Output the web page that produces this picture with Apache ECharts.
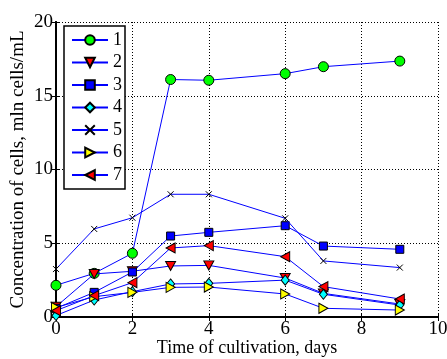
<!DOCTYPE html>
<html><head><meta charset="utf-8">
<script src="https://cdn.jsdelivr.net/npm/echarts@6/dist/echarts.min.js"></script>
<style>html,body{margin:0;padding:0;background:#fff}#c{width:447px;height:359px}</style>
</head><body><div id="c"></div>
<script>
const days = [0, 1, 2, 3, 4, 6, 7, 9];
const seriesNames = ['1', '2', '3', '4', '5', '6', '7'];
const s1 = [2.15, 2.96, 4.32, 16.1, 16.05, 16.5, 16.97, 17.35];
const s2 = [0.7, 2.92, 3.1, 3.46, 3.5, 2.64, 1.6, 0.88];
const s3 = [0.59, 1.67, 3.05, 5.49, 5.74, 6.19, 4.81, 4.59];
const s4 = [0.1, 1.15, 1.72, 2.24, 2.28, 2.5, 1.54, 0.81];
const s5 = [3.25, 5.97, 6.73, 8.32, 8.32, 6.69, 3.8, 3.35];
const s6 = [0.65, 1.38, 1.67, 2.01, 2.03, 1.56, 0.59, 0.47];
const s7 = [0.43, 1.45, 2.33, 4.68, 4.84, 4.09, 2.06, 1.22];
const xTicks = [0, 2, 4, 6, 8, 10];
const yTicks = [0, 5, 10, 15, 20];

const allValues = [s1, s2, s3, s4, s5, s6, s7];
const symbols = ['circle', 'path://M0,0 L10,0 L5,9 Z', 'rect', 'diamond',
  'path://M0,0 L10,10 M10,0 L0,10', 'path://M0,0 L9,5 L0,10 Z', 'path://M9,0 L0,5 L9,10 Z'];
const sizes = [10, [10, 9], 8, [8, 10], 6, [9, 10], [9, 10]];
const fills = ['#00ff00', '#ff0000', '#0000ff', '#00ffff', '#000000', '#ffff00', '#ff0000'];
const FONT = '"Liberation Serif", "Times New Roman", serif';

const series = allValues.map((vals, i) => ({
  name: seriesNames[i],
  type: 'line',
  data: vals.map((v, j) => [days[j], v]),
  symbol: symbols[i],
  symbolSize: sizes[i],
  lineStyle: { color: '#0000ff', width: 1 },
  itemStyle: { color: fills[i], borderColor: '#000', borderWidth: 1 },
  emphasis: { disabled: true },
  animation: false,
  z: 2 + i
}));

const axisCommon = {
  type: 'value',
  axisLine: { show: true, lineStyle: { color: '#000', width: 2 } },
  axisTick: { show: true, inside: true, length: 4, lineStyle: { color: '#000' } },
  splitLine: { show: false },
  axisLabel: { show: false }
};

const option = {
  animation: false,
  grid: { left: 56, top: 22, right: 9, bottom: 42, outerBoundsMode: 'none', containLabel: false },
  xAxis: [{
    type: 'value', min: 0, max: 10, interval: 2,
    name: 'Time of cultivation, days', nameLocation: 'middle', nameGap: 22,
    nameMoveOverlap: false,
    nameTextStyle: { fontFamily: FONT, fontSize: 18, color: '#000' },
    axisLine: { show: true, lineStyle: { color: '#000', width: 2 } },
    axisTick: { show: true, inside: true, length: 4, lineStyle: { color: '#000' } },
    axisLabel: { fontFamily: FONT, fontSize: 19, color: '#000', margin: 3,
      formatter: v => xTicks.includes(v) ? String(v) : '' },
    splitLine: { show: true, lineStyle: { color: '#000', type: [1, 2], width: 1 } }
  }, Object.assign({}, axisCommon, { position: 'top', min: 0, max: 10, interval: 2 })],
  yAxis: [{
    type: 'value', min: 0, max: 20, interval: 5,
    name: 'Concentration of cells, mln cells/mL', nameLocation: 'middle', nameGap: 28,
    nameMoveOverlap: false,
    nameTextStyle: { fontFamily: FONT, fontSize: 19, color: '#000' },
    axisLine: { show: true, lineStyle: { color: '#000', width: 2 } },
    axisTick: { show: true, inside: true, length: 4, lineStyle: { color: '#000' } },
    axisLabel: { fontFamily: FONT, fontSize: 19, color: '#000', margin: 3,
      formatter: v => yTicks.includes(v) ? String(v) : '' },
    splitLine: { show: true, lineStyle: { color: '#000', type: [1, 2], width: 1 } }
  }, Object.assign({}, axisCommon, { position: 'right', min: 0, max: 20, interval: 5 })],
  legend: {
    orient: 'vertical', left: 64, top: 26,
    padding: [5, 3, 5, 7],
    itemWidth: 36, itemHeight: 12, itemGap: 4.5,
    backgroundColor: '#fff',
    borderColor: '#000', borderWidth: 1.5,
    textStyle: { fontFamily: FONT, fontSize: 18, color: '#000' },
    data: seriesNames,
    selectedMode: false
  },
  series: series
};
echarts.init(document.getElementById('c'), null, { renderer: 'canvas' }).setOption(option);
</script></body></html>
